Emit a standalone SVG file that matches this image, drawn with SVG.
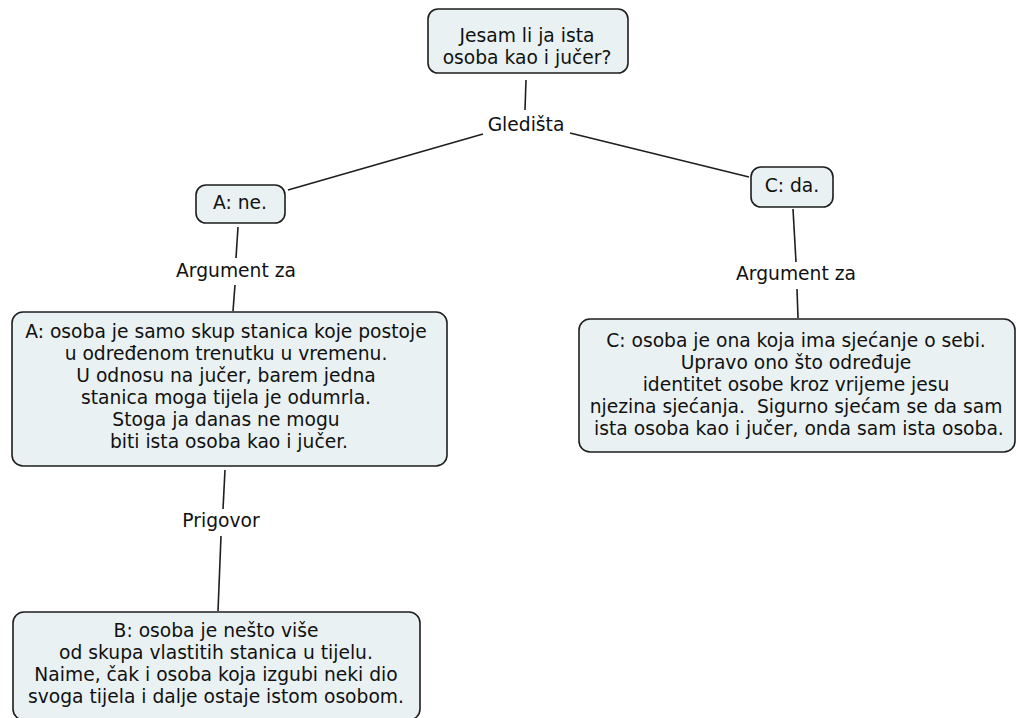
<svg xmlns="http://www.w3.org/2000/svg" width="1016" height="718" viewBox="0 0 1016 718">
<style>
.node rect{fill:#e9f1f3;stroke:#1e1e1e;stroke-width:1.6}
text{font-family:"DejaVu Sans","Verdana",sans-serif;font-size:18.7px;fill:#111;text-anchor:middle;white-space:pre}
.conn line{stroke:#1e1e1e;stroke-width:1.6;fill:none}
</style>
<rect width="1016" height="718" fill="#ffffff"/>
<g id="connectors" class="conn">
<line x1="526" y1="80" x2="525" y2="110"/>
<line x1="483" y1="134" x2="288" y2="190"/>
<line x1="570" y1="133" x2="749" y2="177"/>
<line x1="238" y1="227" x2="236" y2="258"/>
<line x1="235" y1="285" x2="233" y2="311"/>
<line x1="793" y1="209" x2="796" y2="262"/>
<line x1="797" y1="289" x2="798" y2="318"/>
<line x1="225" y1="470" x2="223" y2="509"/>
<line x1="221" y1="536" x2="218" y2="611"/>
<text x="526" y="131">Gledišta</text>
<text x="236" y="277">Argument za</text>
<text x="796" y="280">Argument za</text>
<text x="221" y="527">Prigovor</text>
</g>
<g id="n-top" class="node">
<rect x="428" y="9" width="200" height="64" rx="10"/>
<text x="527" y="42">Jesam li ja ista</text>
<text x="527" y="64">osoba kao i jučer?</text>
</g>
<g id="n-ane" class="node">
<rect x="196" y="185" width="89" height="38" rx="10"/>
<text x="240" y="209">A: ne.</text>
</g>
<g id="n-cda" class="node">
<rect x="751" y="167" width="82" height="40" rx="10"/>
<text x="792" y="192">C: da.</text>
</g>
<g id="n-a" class="node">
<rect x="12" y="312" width="435" height="154" rx="11"/>
<text x="226" y="338">A: osoba je samo skup stanica koje postoje</text>
<text x="226" y="360">u određenom trenutku u vremenu.</text>
<text x="226" y="382">U odnosu na jučer, barem jedna</text>
<text x="226" y="404">stanica moga tijela je odumrla.</text>
<text x="226" y="426">Stoga ja danas ne mogu</text>
<text x="226" y="448"> biti ista osoba kao i jučer.</text>
</g>
<g id="n-c" class="node">
<rect x="579" y="319" width="436" height="133" rx="11"/>
<text x="796" y="347">C: osoba je ona koja ima sjećanje o sebi.</text>
<text x="796" y="369">Upravo ono što određuje</text>
<text x="796" y="391">identitet osobe kroz vrijeme jesu</text>
<text x="796" y="413">njezina sjećanja.  Sigurno sjećam se da sam</text>
<text x="796" y="435"> ista osoba kao i jučer, onda sam ista osoba.</text>
</g>
<g id="n-b" class="node">
<rect x="13" y="612" width="407" height="108" rx="11"/>
<text x="216" y="637">B: osoba je nešto više</text>
<text x="216" y="659">od skupa vlastitih stanica u tijelu.</text>
<text x="216" y="681">Naime, čak i osoba koja izgubi neki dio</text>
<text x="216" y="703">svoga tijela i dalje ostaje istom osobom.</text>
</g>
</svg>
